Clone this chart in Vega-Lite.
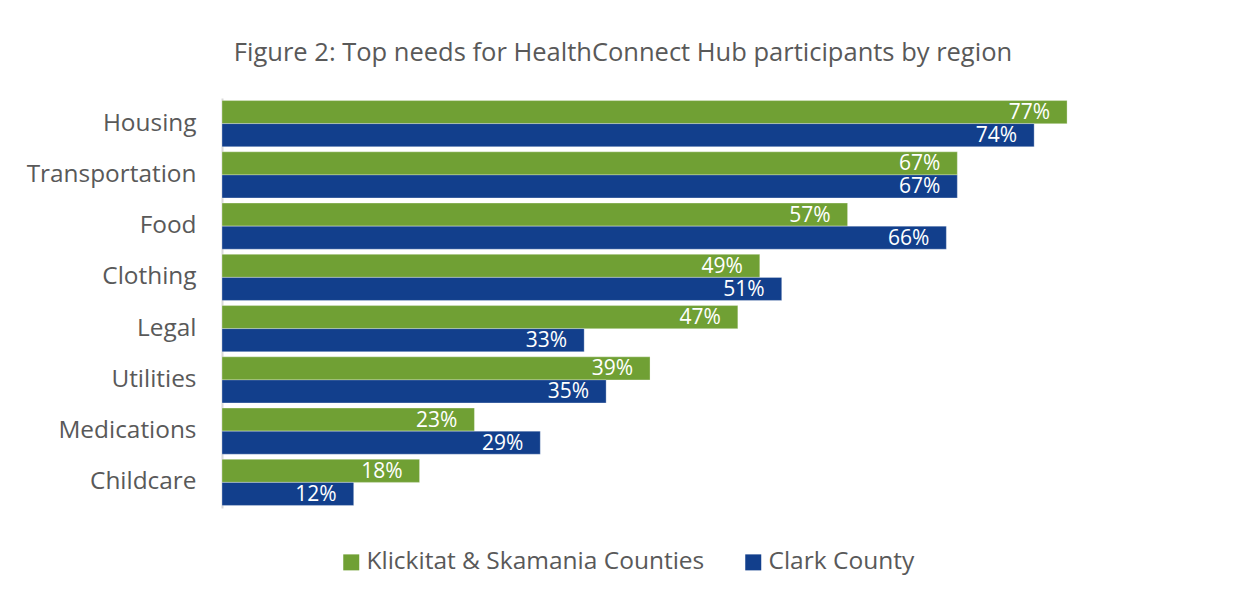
{
  "$schema": "https://vega.github.io/schema/vega-lite/v6.json",
  "autosize": {"type": "none"},
  "width": 878,
  "height": 410,
  "padding": {"left": 222, "top": 98, "right": 138, "bottom": 89},
  "background": "#ffffff",
  "title": {
    "text": "Figure 2: Top needs for HealthConnect Hub participants by region",
    "font": "Open Sans",
    "fontSize": 25.5,
    "fontWeight": "normal",
    "color": "#595959",
    "anchor": "middle",
    "frame": "group",
    "dx": -38,
    "offset": 32
  },
  "config": {
    "view": {"stroke": null},
    "font": "Open Sans"
  },
  "data": {
    "values": [
      {"category": "Housing", "series": "Klickitat & Skamania Counties", "value": 0.77},
      {"category": "Housing", "series": "Clark County", "value": 0.74},
      {"category": "Transportation", "series": "Klickitat & Skamania Counties", "value": 0.67},
      {"category": "Transportation", "series": "Clark County", "value": 0.67},
      {"category": "Food", "series": "Klickitat & Skamania Counties", "value": 0.57},
      {"category": "Food", "series": "Clark County", "value": 0.66},
      {"category": "Clothing", "series": "Klickitat & Skamania Counties", "value": 0.49},
      {"category": "Clothing", "series": "Clark County", "value": 0.51},
      {"category": "Legal", "series": "Klickitat & Skamania Counties", "value": 0.47},
      {"category": "Legal", "series": "Clark County", "value": 0.33},
      {"category": "Utilities", "series": "Klickitat & Skamania Counties", "value": 0.39},
      {"category": "Utilities", "series": "Clark County", "value": 0.35},
      {"category": "Medications", "series": "Klickitat & Skamania Counties", "value": 0.23},
      {"category": "Medications", "series": "Clark County", "value": 0.29},
      {"category": "Childcare", "series": "Klickitat & Skamania Counties", "value": 0.18},
      {"category": "Childcare", "series": "Clark County", "value": 0.12}
    ]
  },
  "encoding": {
    "y": {
      "field": "category",
      "type": "nominal",
      "sort": ["Housing", "Transportation", "Food", "Clothing", "Legal", "Utilities", "Medications", "Childcare"],
      "scale": {"paddingInner": 0.1, "paddingOuter": 0.05},
      "axis": {
        "title": null,
        "ticks": false,
        "labelPadding": 26,
        "labelFontSize": 24.4,
        "labelColor": "#595959",
        "labelFont": "Open Sans",
        "domainColor": "#d9d9d9",
        "domainWidth": 2,
        "grid": false
      }
    },
    "yOffset": {
      "field": "series",
      "type": "nominal",
      "sort": ["Klickitat & Skamania Counties", "Clark County"],
      "scale": {"paddingInner": 0, "paddingOuter": 0}
    },
    "x": {
      "field": "value",
      "type": "quantitative",
      "scale": {"domain": [0, 0.8]},
      "axis": null
    }
  },
  "layer": [
    {
      "mark": {"type": "bar", "stroke": "#ffffff", "strokeWidth": 0.6, "strokeOpacity": 0.5},
      "encoding": {
        "color": {
          "field": "series",
          "type": "nominal",
          "sort": ["Klickitat & Skamania Counties", "Clark County"],
          "scale": {"domain": ["Klickitat & Skamania Counties", "Clark County"], "range": ["#70A034", "#123F8C"]},
          "legend": {
            "title": null,
            "orient": "none",
            "direction": "horizontal",
            "legendX": 117,
            "legendY": 452,
            "symbolType": "square",
            "symbolSize": 256,
            "symbolStrokeWidth": 0,
            "labelFontSize": 24.5,
            "labelFont": "Open Sans",
            "labelColor": "#595959",
            "labelOffset": 3,
            "columnPadding": 36,
            "labelLimit": 400
          }
        }
      }
    },
    {
      "mark": {"type": "text", "align": "right", "baseline": "middle", "dx": -17, "dy": 1, "color": "#ffffff", "fontSize": 21, "font": "Open Sans"},
      "encoding": {
        "text": {"field": "value", "type": "quantitative", "format": ".0%"}
      }
    }
  ]
}
